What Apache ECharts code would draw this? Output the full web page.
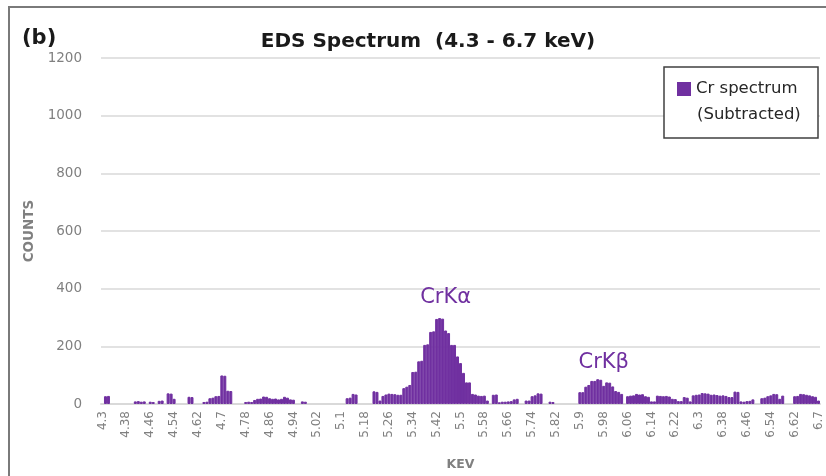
<!DOCTYPE html>
<html>
<head>
<meta charset="utf-8">
<script src="https://cdn.jsdelivr.net/npm/echarts@6/dist/echarts.min.js"></script>
<style>
html,body{margin:0;padding:0;background:#fff;}
#chart{width:826px;height:476px;}
</style>
</head>
<body>
<div id="chart"></div>
<script>
// Energy axis: 4.30 .. 6.70 keV, step 0.01 keV
const energyStart = 4.30;
const energyStep = 0.01;
const energyCount = 241;
const categories = [];
for (let i = 0; i < energyCount; i++) {
  categories.push(String(Number((energyStart + i * energyStep).toFixed(2))));
}

// Counts (Cr spectrum, subtracted)
const counts = [
  0, 27, 28, 0, 0, 0, 0, 0, 0, 0,
  0, 9, 10, 8, 9, 0, 8, 7, 0, 11,
  12, 0, 37, 36, 18, 0, 0, 0, 0, 25,
  24, 0, 0, 0, 7, 8, 20, 22, 27, 28,
  99, 98, 46, 45, 0, 0, 0, 0, 7, 8,
  7, 14, 18, 19, 26, 25, 20, 18, 19, 16,
  18, 25, 22, 16, 15, 0, 0, 9, 8, 0,
  0, 0, 0, 0, 0, 0, 0, 0, 0, 0,
  0, 0, 20, 22, 35, 33, 0, 0, 0, 0,
  0, 44, 42, 12, 28, 33, 36, 35, 34, 32,
  32, 55, 60, 66, 111, 112, 148, 150, 205, 207,
  250, 252, 295, 298, 296, 255, 246, 205, 205, 165,
  142, 108, 75, 75, 35, 33, 29, 28, 29, 12,
  0, 32, 33, 6, 8, 8, 9, 10, 16, 18,
  0, 0, 12, 12, 27, 30, 37, 36, 0, 0,
  8, 7, 0, 0, 0, 0, 0, 0, 0, 0,
  41, 41, 60, 66, 80, 80, 86, 84, 63, 75,
  74, 61, 45, 42, 35, 0, 27, 29, 30, 35,
  33, 34, 27, 25, 9, 9, 29, 28, 27, 28,
  26, 18, 17, 10, 10, 24, 22, 9, 30, 32,
  33, 38, 37, 36, 32, 33, 31, 29, 30, 28,
  24, 24, 43, 42, 9, 8, 10, 11, 16, 0,
  0, 20, 22, 27, 30, 35, 34, 18, 29, 0,
  0, 0, 27, 28, 35, 34, 32, 30, 27, 25,
  12
];

const yTicks = [0, 200, 400, 600, 800, 1000, 1200];
const peakLabels = ['CrK\u03b1', 'CrK\u03b2'];
const peakAt = ['5.45', '5.98'];
const peakLabelValue = [370, 145];

const purple = '#7030A0';
const gray = '#808080';
const font = 'DejaVu Sans';

// zero-count channels draw no bar (avoids a border line on the baseline)
const barData = counts.map(function (v) { return v === 0 ? '-' : v; });

const chart = echarts.init(document.getElementById('chart'), null, {renderer: 'canvas'});
chart.setOption({
  animation: false,
  backgroundColor: '#ffffff',
  title: {
    text: 'EDS Spectrum  (4.3 - 6.7 keV)',
    left: 423,
    textAlign: 'center',
    top: 27,
    textStyle: {fontFamily: font, fontSize: 20, fontWeight: 'bold', color: '#1a1a1a'}
  },
  legend: {
    data: ['Cr spectrum'],
    left: 664,
    top: 67,
    orient: 'vertical',
    padding: [12, 10, 39, 13],
    backgroundColor: '#ffffff',
    borderColor: '#404040',
    borderWidth: 1.5,
    itemWidth: 14,
    itemHeight: 14,
    icon: 'rect',
    itemStyle: {borderWidth: 0},
    textStyle: {fontFamily: font, fontSize: 16.5, color: '#262626', width: 112, lineHeight: 20}
  },
  graphic: [
    {type: 'rect', z: 0, shape: {x: 9, y: 7, width: 900, height: 500}, style: {fill: 'none', stroke: '#7a7a7a', lineWidth: 2}, silent: true},
    {type: 'text', z: 10, left: 22, top: 28, style: {text: '(b)', fontFamily: font, fontSize: 21, fontWeight: 'bold', fill: '#1a1a1a'}},
    {type: 'text', z: 100, zlevel: 1, left: 697, top: 106, style: {text: '(Subtracted)', fontFamily: font, fontSize: 16.5, fill: '#262626'}}
  ],
  grid: {left: 101, right: 6, top: 58, bottom: 64, containLabel: false},
  xAxis: {
    type: 'category',
    data: categories,
    name: 'KEV',
    nameLocation: 'middle',
    nameGap: 54,
    nameTextStyle: {fontFamily: font, fontSize: 12.5, fontWeight: 'bold', color: gray},
    axisLine: {show: true, lineStyle: {color: '#d9d9d9', width: 2}},
    axisTick: {show: false},
    axisLabel: {interval: 7, rotate: 90, fontFamily: font, fontSize: 12, color: gray, margin: 7},
    splitLine: {show: false}
  },
  yAxis: {
    type: 'value',
    min: 0,
    max: 1200,
    interval: 200,
    name: 'COUNTS',
    nameLocation: 'middle',
    nameGap: 64,
    nameRotate: 90,
    nameTextStyle: {fontFamily: font, fontSize: 13.5, fontWeight: 'bold', color: gray},
    axisLine: {show: false},
    axisTick: {show: false},
    axisLabel: {fontFamily: font, fontSize: 13.5, color: gray, margin: 19,
      formatter: function (v) { return yTicks.indexOf(v) >= 0 ? String(v) : ''; }},
    splitLine: {lineStyle: {color: '#d9d9d9', width: 1.5}}
  },
  series: [{
    name: 'Cr spectrum',
    type: 'bar',
    data: barData,
    barWidth: '100%',
    barCategoryGap: '0%',
    itemStyle: {color: purple, borderColor: purple, borderWidth: 1},
    markPoint: {
      symbol: 'circle',
      symbolSize: 0,
      label: {show: true, position: 'inside', formatter: '{b}', fontFamily: font, fontSize: 21, color: purple},
      data: peakLabels.map(function (t, i) {
        return {name: t, coord: [peakAt[i], peakLabelValue[i]]};
      })
    }
  }]
});
</script>
</body>
</html>
